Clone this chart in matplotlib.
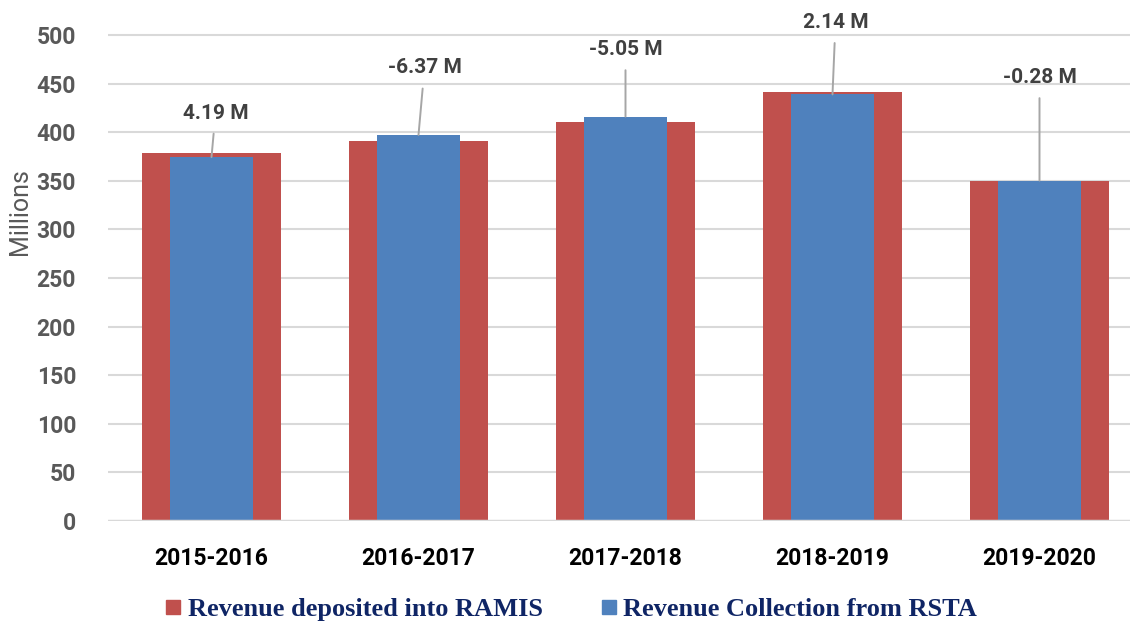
import matplotlib
matplotlib.use("Agg")
import matplotlib.pyplot as plt
from matplotlib.lines import Line2D

# ---- data (millions) ----
years = ["2015-2016", "2016-2017", "2017-2018", "2018-2019", "2019-2020"]
ramis = [378.6, 390.8, 411.0, 441.0, 350.0]
rsta = [374.41, 397.17, 416.05, 438.86, 350.28]
diff_labels = ["4.19 M", "-6.37 M", "-5.05 M", "2.14 M", "-0.28 M"]
yticks = [0, 50, 100, 150, 200, 250, 300, 350, 400, 450, 500]
legend_labels = ["Revenue deposited into RAMIS", "Revenue Collection from RSTA"]

# label placement (pixel offsets from the top of the blue bar)
label_dx = [4, 6, 0, 3, 0]
label_dy = [44, 67, 67, 72, 103]

RED = "#C0504D"
BLUE = "#4F81BD"
GRID = "#D9D9D9"
NAVY = "#0F2565"
SANS = "Roboto"

W, H = 1130, 621
fig = plt.figure(figsize=(W / 100, H / 100), dpi=100)
left_px, right_px = 108, 1143
bottom_px = 521
ax = fig.add_axes([left_px / W, (H - bottom_px) / H, (right_px - left_px) / W, bottom_px / H])

px_per_unit = (521 - 35) / 500.0
ax.set_ylim(0, bottom_px / px_per_unit)
ax.set_xlim(-0.5, len(years) - 0.5)

x = list(range(len(years)))
ax.bar(x, ramis, width=0.667, color=RED, zorder=2)
ax.bar(x, rsta, width=0.40, color=BLUE, zorder=3)

ax.set_axisbelow(True)
for t in yticks[1:]:
    ax.axhline(t, color=GRID, lw=1.5, zorder=1)
ax.axhline(0, color=GRID, lw=2.5, zorder=4)

for sp in ax.spines.values():
    sp.set_visible(False)

ax.set_yticks(yticks)
ax.set_yticklabels([str(t) for t in yticks], fontfamily=SANS, fontweight="bold",
                   fontsize=16.5, color="#595959")
ax.set_xticks(x)
ax.set_xticklabels(years, fontfamily=SANS, fontweight="bold", fontsize=16.5, color="black")
ax.tick_params(axis="both", length=0)
ax.tick_params(axis="y", pad=23)
ax.tick_params(axis="x", pad=19)

fig.text(20 / W, 1 - 212 / H, "Millions", rotation=90, ha="center", va="center",
         fontfamily=SANS, fontsize=18, color="#595959")

for i, (val, lab) in enumerate(zip(rsta, diff_labels)):
    ax.annotate(lab, xy=(i, val), xytext=(label_dx[i], label_dy[i]),
                textcoords="offset pixels", ha="center", va="center",
                fontfamily=SANS, fontweight="bold", fontsize=15, color="#404040",
                annotation_clip=False, zorder=5,
                arrowprops=dict(arrowstyle="-", color="#A6A6A6", lw=1.4,
                                shrinkA=6, shrinkB=0))

handles = [Line2D([], [], marker="s", linestyle="none", markersize=10,
                  markerfacecolor=c, markeredgecolor=c) for c in (RED, BLUE)]
leg = fig.legend(handles, legend_labels, loc="center", bbox_to_anchor=(570 / W, 1 - 609 / H),
                 ncol=2, frameon=False, handletextpad=0.15, columnspacing=2.1,
                 handlelength=0.8, borderaxespad=0,
                 prop={"family": "Liberation Serif", "weight": "bold", "size": 19})
for t in leg.get_texts():
    t.set_color(NAVY)

fig.savefig("out.png", dpi=100)
